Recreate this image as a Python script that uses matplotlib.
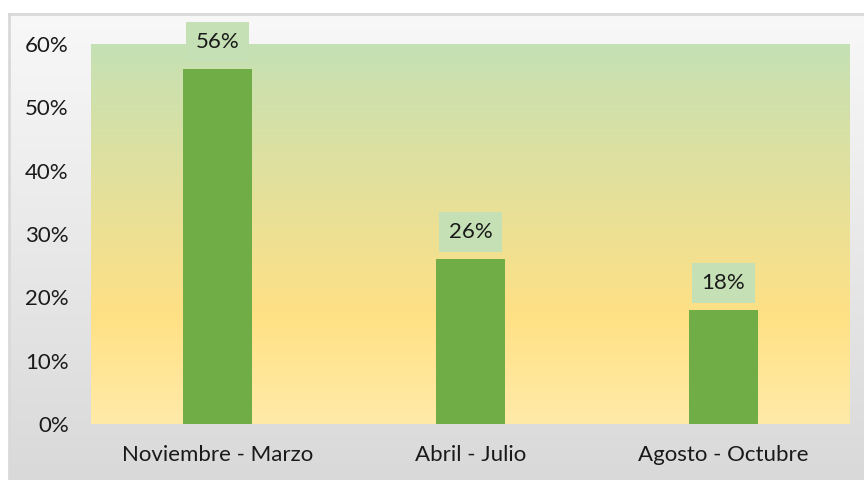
import numpy as np
import matplotlib
matplotlib.use("Agg")
import matplotlib.pyplot as plt
from matplotlib.colors import LinearSegmentedColormap
from matplotlib.ticker import PercentFormatter

categories = ["Noviembre - Marzo", "Abril - Julio", "Agosto - Octubre"]
values = [0.56, 0.26, 0.18]
labels = ["56%", "26%", "18%"]
y_ticks = [0, 0.1, 0.2, 0.3, 0.4, 0.5, 0.6]

plt.rcParams['font.family'] = ['Lato', 'DejaVu Sans']

W, H = 864, 480
fig = plt.figure(figsize=(W / 100, H / 100), dpi=100)
fig.patch.set_facecolor('white')

# chart-area background (gradient grey)
bg = fig.add_axes([9 / W, 0, 1 - 9 / W, (H - 14) / H])
bg_cmap = LinearSegmentedColormap.from_list('bg', ['#f8f8f8', '#d9d9d9'])
grad = np.linspace(0, 1, 256).reshape(-1, 1)
bg.imshow(grad, cmap=bg_cmap, aspect='auto', extent=[0, 1, 0, 1], origin='upper')
bg.set_xlim(0, 1)
bg.set_ylim(0, 1)
bg.set_xticks([])
bg.set_yticks([])
for s in ['right', 'bottom']:
    bg.spines[s].set_visible(False)
for s in ['top', 'left']:
    bg.spines[s].set_color('#d9d9d9')
    bg.spines[s].set_linewidth(2)
bg.set_zorder(0)

ax = fig.add_axes([91 / W, (H - 424) / H, (850 - 91) / W, (424 - 44) / H])
ax.set_zorder(1)
x = np.arange(len(categories))
ax.set_xlim(-0.5, len(categories) - 0.5)
ax.set_ylim(0, 0.6)

pa_cmap = LinearSegmentedColormap.from_list(
    'pa', [(0.0, '#ffeaa8'), (0.28, '#ffe185'), (1.0, '#c5e0b4')])
ax.imshow(grad[::-1], cmap=pa_cmap, aspect='auto',
          extent=[-0.5, len(categories) - 0.5, 0, 0.6], origin='upper', zorder=0)

ax.bar(x, values, width=0.272, color='#70ad47', zorder=2)

for xi, v, lab in zip(x, values, labels):
    ax.annotate(lab, (xi, v), xytext=(0, 12.2), textcoords='offset points',
                ha='center', va='bottom', fontsize=16, color='#1a1a1a', zorder=4,
                annotation_clip=False,
                bbox=dict(boxstyle='square,pad=0.45', facecolor='#c5e0b4',
                          edgecolor='none'))

ax.set_xticks(x)
ax.set_xticklabels(categories)
ax.set_yticks(y_ticks)
ax.yaxis.set_major_formatter(PercentFormatter(1.0, decimals=0))
ax.tick_params(axis='both', length=0, labelsize=16, colors='#1a1a1a')
ax.tick_params(axis='y', pad=16)
ax.tick_params(axis='x', pad=15)
for s in ax.spines.values():
    s.set_visible(False)

fig.savefig('out.png', dpi=100)
